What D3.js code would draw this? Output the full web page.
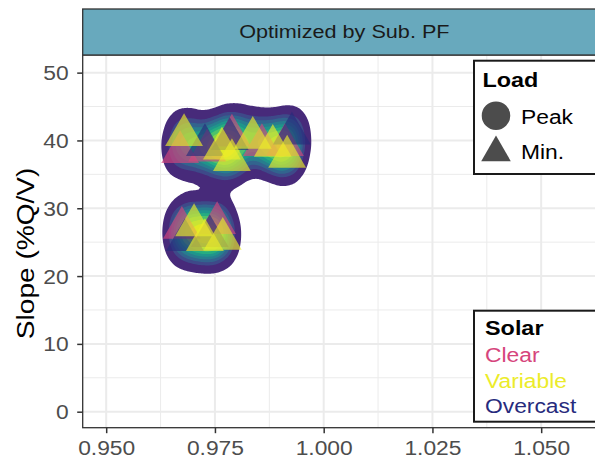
<!DOCTYPE html>
<html>
<head>
<meta charset="utf-8">
<script src="https://cdn.jsdelivr.net/npm/d3@7"></script>
<style>
  body { margin: 0; background: #fff; }
  text { font-family: "Liberation Sans", Arial, sans-serif; }
</style>
</head>
<body>
<div id="chart"></div>
<script>
// data
var solarLevels = ["Clear", "Variable", "Overcast"];
var solarColors = ["#D6457C", "#ECEC2A", "#272B7D"];
var loadLevels = ["Peak", "Min."];

// voltage (pu) and slope (%Q/V) of each case, all at minimum load
var ptX = [0.9670, 0.9732, 0.9789, 0.9858, 0.9911, 0.9674, 0.9755,
           0.9727, 0.9784, 0.9927, 0.9681, 0.9738,
           0.9679, 0.9766, 0.9789, 0.9837, 0.9883, 0.9916, 0.9702, 0.9768, 0.9727];
var ptY = [38.3, 38.5, 40.7, 39.3, 39.3, 27.1, 27.8,
           39.3, 40.2, 41.0, 25.3, 25.9,
           40.8, 38.8, 37.1, 40.4, 39.2, 37.6, 27.5, 25.5, 25.3];
var ptSolar = ["Clear", "Clear", "Clear", "Clear", "Clear", "Clear", "Clear",
               "Overcast", "Overcast", "Overcast", "Overcast", "Overcast",
               "Variable", "Variable", "Variable", "Variable", "Variable", "Variable", "Variable", "Variable", "Variable"];
var ptLoad = ptX.map(function() { return "Min."; });

var xTicks = [0.950, 0.975, 1.000, 1.025, 1.050];
var xMinor = [0.9625, 0.9875, 1.0125, 1.0375, 1.0625];
var yTicks = [0, 10, 20, 30, 40, 50];
var yMinor = [5, 15, 25, 35, 45];

var points = ptX.map(function(x, i) {
  return {x: x, y: ptY[i], solar: ptSolar[i], load: ptLoad[i]};
});

var W = 595, H = 464;
var panel = {left: 82.7, right: 606, top: 55, bottom: 427.7};
var stretch = 1.17; // text in the picture is drawn a bit wide

var xScale = d3.scaleLinear().domain([0.9446, 1.0649]).range([panel.left, panel.right]);
var yScale = d3.scaleLinear().domain([-2.36, 52.6]).range([panel.bottom, panel.top]);
var colorScale = d3.scaleOrdinal().domain(solarLevels).range(solarColors);
var shapeScale = d3.scaleOrdinal().domain(loadLevels).range([d3.symbolCircle, d3.symbolTriangle]);

var svg = d3.select("#chart").append("svg")
  .attr("width", W)
  .attr("height", H);

function label(g, x, y, str) {
  return g.append("text")
    .attr("transform", "translate(" + x + "," + y + ") scale(" + stretch + ",1)")
    .text(str);
}

svg.append("defs").append("clipPath").attr("id", "clip")
  .append("rect")
  .attr("x", panel.left).attr("y", panel.top)
  .attr("width", panel.right - panel.left).attr("height", panel.bottom - panel.top);

// grid
var grid = svg.append("g");
grid.selectAll(".xminor").data(xMinor).enter().append("line")
  .attr("x1", function(d) { return xScale(d); }).attr("x2", function(d) { return xScale(d); })
  .attr("y1", panel.top).attr("y2", panel.bottom)
  .attr("stroke", "#ebebeb").attr("stroke-width", 1);
grid.selectAll(".yminor").data(yMinor).enter().append("line")
  .attr("y1", function(d) { return yScale(d); }).attr("y2", function(d) { return yScale(d); })
  .attr("x1", panel.left).attr("x2", panel.right)
  .attr("stroke", "#ebebeb").attr("stroke-width", 1);
grid.selectAll(".xmajor").data(xTicks).enter().append("line")
  .attr("x1", function(d) { return xScale(d); }).attr("x2", function(d) { return xScale(d); })
  .attr("y1", panel.top).attr("y2", panel.bottom)
  .attr("stroke", "#ebebeb").attr("stroke-width", 2);
grid.selectAll(".ymajor").data(yTicks).enter().append("line")
  .attr("y1", function(d) { return yScale(d); }).attr("y2", function(d) { return yScale(d); })
  .attr("x1", panel.left).attr("x2", panel.right)
  .attr("stroke", "#ebebeb").attr("stroke-width", 2);

// 2d density, wider kernel vertically than horizontally
var sx = 11, sy = 17, kx = sy / sx;
var density = d3.contourDensity()
  .x(function(d) { return xScale(d.x) * kx; })
  .y(function(d) { return yScale(d.y); })
  .size([W * kx + 200, H])
  .cellSize(2)
  .bandwidth(sy);

var maxD = d3.max(density.thresholds(80)(points), function(c) { return c.value; });
var fracs = [0.11, 0.26, 0.34, 0.42, 0.5, 0.58, 0.66, 0.76, 0.86];
var contours = density.thresholds(fracs.map(function(f) { return f * maxD; }))(points);

svg.append("g")
  .attr("clip-path", "url(#clip)")
  .append("g")
  .attr("transform", "scale(" + (1 / kx) + ",1)")
  .selectAll("path")
  .data(contours)
  .enter().append("path")
  .attr("d", d3.geoPath())
  .attr("fill", function(d, i) { return d3.interpolateViridis(0.12 + i * 0.1); });

// points
svg.append("g")
  .attr("clip-path", "url(#clip)")
  .selectAll("path")
  .data(points)
  .enter().append("path")
  .attr("transform", function(d) { return "translate(" + xScale(d.x) + "," + yScale(d.y) + ")"; })
  .attr("d", function(d) { return d3.symbol().type(shapeScale(d.load)).size(620)(); })
  .attr("fill", function(d) { return colorScale(d.solar); })
  .attr("fill-opacity", 0.65);

// panel border
svg.append("rect")
  .attr("x", panel.left).attr("y", panel.top)
  .attr("width", panel.right - panel.left).attr("height", panel.bottom - panel.top)
  .attr("fill", "none").attr("stroke", "#333").attr("stroke-width", 1.3);

// strip
svg.append("rect")
  .attr("x", panel.left).attr("y", 9)
  .attr("width", panel.right - panel.left).attr("height", 46)
  .attr("fill", "#68a9bd").attr("stroke", "#333").attr("stroke-width", 1.3);
label(svg, (panel.left + panel.right) / 2, 37.5, "Optimized by Sub. PF")
  .attr("text-anchor", "middle").attr("font-size", 18.5).attr("fill", "#1a1a1a");

// axes
var xAxis = svg.append("g")
  .attr("transform", "translate(0," + panel.bottom + ")")
  .call(d3.axisBottom(xScale).tickValues(xTicks).tickSize(5.5).tickFormat(d3.format(".3f")));
var yAxis = svg.append("g")
  .attr("transform", "translate(" + panel.left + ",0)")
  .call(d3.axisLeft(yScale).tickValues(yTicks).tickSize(5.5));
[xAxis, yAxis].forEach(function(ax) {
  ax.select(".domain").remove();
  ax.selectAll(".tick line").attr("stroke", "#333").attr("stroke-width", 1.5);
  ax.selectAll(".tick text").remove();
});
xAxis.selectAll(".tick").each(function(d) {
  label(d3.select(this), 0, 27, d3.format(".3f")(d))
    .attr("text-anchor", "middle").attr("font-size", 19.5).attr("fill", "#4d4d4d");
});
yAxis.selectAll(".tick").each(function(d) {
  label(d3.select(this), -14, 7, d)
    .attr("text-anchor", "end").attr("font-size", 19.5).attr("fill", "#4d4d4d");
});

// axis title
svg.append("text")
  .attr("transform", "translate(34," + ((panel.top + panel.bottom) / 2 + 12) + ") rotate(-90) scale(" + stretch + ",1)")
  .attr("text-anchor", "middle")
  .attr("font-size", 24)
  .attr("fill", "#000")
  .text("Slope (%Q/V)");

// legend: Load
var lg1 = svg.append("g");
lg1.append("rect")
  .attr("x", 474).attr("y", 60.7).attr("width", 140).attr("height", 113.3)
  .attr("fill", "#fff").attr("stroke", "#1a1a1a").attr("stroke-width", 2);
label(lg1, 482.5, 87, "Load").attr("font-size", 20).attr("font-weight", "bold");
loadLevels.forEach(function(l, i) {
  var cy = 115.7 + i * 35;
  lg1.append("path")
    .attr("transform", "translate(496," + (cy + (i ? 2 : 0)) + ")")
    .attr("d", d3.symbol().type(shapeScale(l)).size(i ? 380 : 640)())
    .attr("fill", "#000").attr("fill-opacity", 0.7);
  label(lg1, 521, cy + 8, l).attr("font-size", 19.5);
});

// legend: Solar
var lg2 = svg.append("g");
lg2.append("rect")
  .attr("x", 474).attr("y", 310.7).attr("width", 140).attr("height", 111)
  .attr("fill", "#fff").attr("stroke", "#1a1a1a").attr("stroke-width", 2);
label(lg2, 485, 335, "Solar").attr("font-size", 20).attr("font-weight", "bold");
solarLevels.forEach(function(s, i) {
  label(lg2, 485, 362 + i * 25.5, s).attr("font-size", 19.5).attr("fill", colorScale(s));
});
</script>
</body>
</html>
